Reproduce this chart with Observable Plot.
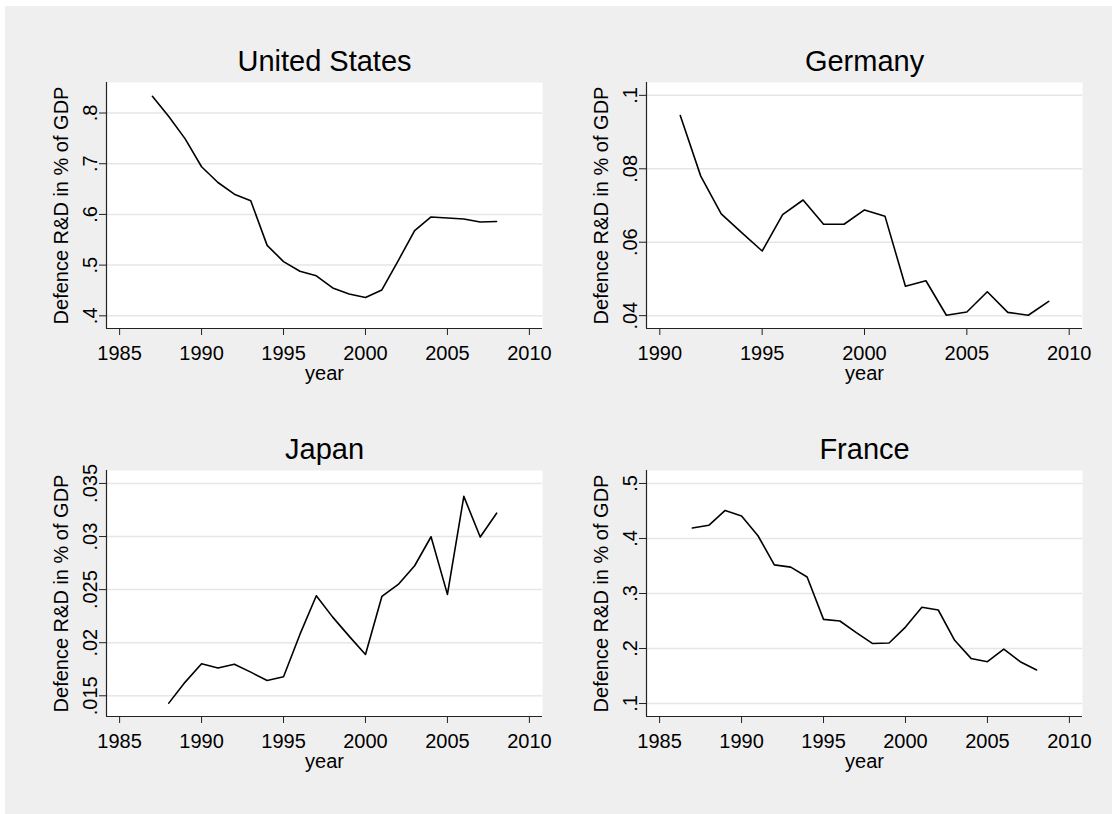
<!DOCTYPE html>
<html><head><meta charset="utf-8">
<script src="https://cdn.jsdelivr.net/npm/d3@7"></script>
<script src="https://cdn.jsdelivr.net/npm/@observablehq/plot@0.6"></script>
<style>
html,body{margin:0;padding:0;background:#fff;}
#bg{position:absolute;left:5px;top:6px;width:1107px;height:808px;background:#efefef;}
.panel{position:absolute;}
</style></head><body>
<div id="bg"></div>
<div id="p0" class="panel" style="left:0px;top:0px"></div>
<div id="p1" class="panel" style="left:540px;top:0px"></div>
<div id="p2" class="panel" style="left:0px;top:388px"></div>
<div id="p3" class="panel" style="left:540px;top:388px"></div>
<script>
// ---- data ----
const usYears = [1987,1988,1989,1990,1991,1992,1993,1994,1995,1996,1997,1998,1999,2000,2001,2002,2003,2004,2005,2006,2007,2008];
const usValues = [0.833,0.793,0.749,0.694,0.663,0.640,0.627,0.539,0.507,0.488,0.479,0.455,0.443,0.436,0.451,0.509,0.568,0.595,0.593,0.591,0.585,0.586];

const deYears = [1991,1992,1993,1994,1995,1996,1997,1998,1999,2000,2001,2002,2003,2004,2005,2006,2007,2008,2009];
const deValues = [0.0945,0.0780,0.0677,0.0626,0.0576,0.0675,0.0715,0.0649,0.0649,0.0688,0.0671,0.0480,0.0495,0.0401,0.0410,0.0465,0.0409,0.0401,0.0439];

const jpYears = [1988,1989,1990,1991,1992,1993,1994,1995,1996,1997,1998,1999,2000,2001,2002,2003,2004,2005,2006,2007,2008];
const jpValues = [0.01431,0.01629,0.01801,0.01761,0.01798,0.01723,0.01644,0.01679,0.02078,0.02442,0.02241,0.02062,0.01889,0.02436,0.02549,0.02725,0.02998,0.02455,0.03378,0.02995,0.03220];

const frYears = [1987,1988,1989,1990,1991,1992,1993,1994,1995,1996,1997,1998,1999,2000,2001,2002,2003,2004,2005,2006,2007,2008];
const frValues = [0.419,0.424,0.451,0.441,0.405,0.352,0.348,0.330,0.253,0.250,0.229,0.209,0.210,0.239,0.275,0.270,0.215,0.182,0.176,0.199,0.176,0.161];

const titles = ["United States","Germany","Japan","France"];
const yLabel = "Defence R&D in % of GDP";
const xLabel = "year";

const xTicksA = [1985,1990,1995,2000,2005,2010];
const xTicksB = [1990,1995,2000,2005,2010];
const usYTicks = [0.4,0.5,0.6,0.7,0.8];
const deYTicks = [0.04,0.06,0.08,0.1];
const jpYTicks = [0.015,0.02,0.025,0.03,0.035];
const frYTicks = [0.1,0.2,0.3,0.4,0.5];

// ---- drawing ----
const fmtY = d => String(+d.toFixed(4)).replace(/^0\./, ".");
const FONT = "'Liberation Sans', Arial, sans-serif";

function panel(id, cfg) {
  const data = cfg.years.map((y, i) => ({year: y, value: cfg.values[i]}));
  const chart = Plot.plot({
    width: cfg.width, height: 400,
    marginLeft: 106, marginRight: cfg.width - 106 - 436, marginTop: 82, marginBottom: 72,
    style: {background: "transparent", fontFamily: FONT, fontSize: "20px", color: "#000", overflow: "visible"},
    x: {domain: cfg.xDomain},
    y: {domain: cfg.yDomain},
    marks: [
      Plot.frame({fill: "#fff", stroke: "none"}),
      Plot.gridY(cfg.yTicks, {stroke: "#e6e6e6", strokeOpacity: 1, strokeWidth: 1.5}),
      Plot.line(data, {x: "year", y: "value", stroke: "#000", strokeWidth: 1.6}),
      Plot.ruleX([cfg.xDomain[0]], {stroke: "#222", strokeWidth: 1.2}),
      Plot.ruleY([cfg.yDomain[0]], {stroke: "#222", strokeWidth: 1.2}),
      Plot.axisX(cfg.xTicks, {tickSize: 7, tickPadding: 10, fontSize: 20, tickFormat: d => String(d), label: null, stroke: "#222", fill: "#000"}),
      Plot.axisY(cfg.yTicks, {tickSize: 7, tickRotate: -90, tickPadding: 3, fontSize: 20, tickFormat: fmtY, label: null, stroke: "#222", fill: "#000"}),
      Plot.text([cfg.title], {frameAnchor: "top", lineAnchor: "middle", textAnchor: "middle", dy: -21, fontSize: 29, text: d => d, fill: "#000"}),
      Plot.text([yLabel], {frameAnchor: "left", lineAnchor: "middle", textAnchor: "middle", rotate: -90, dx: -45, fontSize: 20, text: d => d, fill: "#000"}),
      Plot.text([xLabel], {frameAnchor: "bottom", lineAnchor: "middle", textAnchor: "middle", dy: 45, fontSize: 20, text: d => d, fill: "#000"})
    ]
  });
  document.getElementById(id).appendChild(chart);
}

panel("p0", {title: titles[0], years: usYears, values: usValues, width: 556,
  xDomain: [1984.2, 2010.8], yDomain: [0.375, 0.8602], xTicks: xTicksA, yTicks: usYTicks});
panel("p1", {title: titles[1], years: deYears, values: deValues, width: 572,
  xDomain: [1989.35, 2010.65], yDomain: [0.0365, 0.1035], xTicks: xTicksB, yTicks: deYTicks});
panel("p2", {title: titles[2], years: jpYears, values: jpValues, width: 556,
  xDomain: [1984.2, 2010.8], yDomain: [0.01305, 0.03622], xTicks: xTicksA, yTicks: jpYTicks});
panel("p3", {title: titles[3], years: frYears, values: frValues, width: 572,
  xDomain: [1984.2, 2010.8], yDomain: [0.0764, 0.5236], xTicks: xTicksA, yTicks: frYTicks});
</script>
</body></html>
